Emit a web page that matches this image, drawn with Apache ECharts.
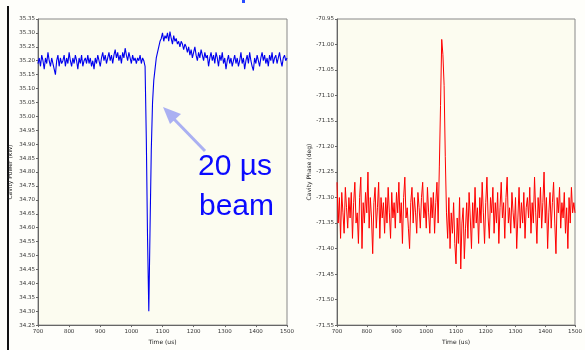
<!DOCTYPE html>
<html>
<head>
<meta charset="utf-8">
<script src="https://cdn.jsdelivr.net/npm/echarts@6/dist/echarts.min.js"></script>
<style>
  html, body { margin: 0; padding: 0; background: #fefefa; }
  #chart { width: 585px; height: 350px; }
</style>
</head>
<body>
<div id="chart"></div>
<script>
// tiempo en microsegundos (muestreo cada 4 us)
const timeUs = [
  700, 704, 708, 712, 716, 720, 724, 728, 732, 736, 740, 744, 748, 752, 756, 760, 764, 768, 772, 776,
  780, 784, 788, 792, 796, 800, 804, 808, 812, 816, 820, 824, 828, 832, 836, 840, 844, 848, 852, 856,
  860, 864, 868, 872, 876, 880, 884, 888, 892, 896, 900, 904, 908, 912, 916, 920, 924, 928, 932, 936,
  940, 944, 948, 952, 956, 960, 964, 968, 972, 976, 980, 984, 988, 992, 996, 1000, 1004, 1008, 1012, 1016,
  1020, 1024, 1028, 1032, 1036, 1040, 1044, 1048, 1052, 1056, 1060, 1064, 1068, 1072, 1076, 1080, 1084, 1088, 1092, 1096,
  1100, 1104, 1108, 1112, 1116, 1120, 1124, 1128, 1132, 1136, 1140, 1144, 1148, 1152, 1156, 1160, 1164, 1168, 1172, 1176,
  1180, 1184, 1188, 1192, 1196, 1200, 1204, 1208, 1212, 1216, 1220, 1224, 1228, 1232, 1236, 1240, 1244, 1248, 1252, 1256,
  1260, 1264, 1268, 1272, 1276, 1280, 1284, 1288, 1292, 1296, 1300, 1304, 1308, 1312, 1316, 1320, 1324, 1328, 1332, 1336,
  1340, 1344, 1348, 1352, 1356, 1360, 1364, 1368, 1372, 1376, 1380, 1384, 1388, 1392, 1396, 1400, 1404, 1408, 1412, 1416,
  1420, 1424, 1428, 1432, 1436, 1440, 1444, 1448, 1452, 1456, 1460, 1464, 1468, 1472, 1476, 1480, 1484, 1488, 1492, 1496,
  1500
];

// potencia de la cavidad (kW)
const powerKw = [
  35.19, 35.21, 35.18, 35.22, 35.20, 35.17, 35.21, 35.19, 35.23, 35.20, 35.18, 35.21, 35.19, 35.17, 35.15, 35.20, 35.22, 35.18, 35.21, 35.19,
  35.20, 35.22, 35.18, 35.21, 35.19, 35.23, 35.20, 35.18, 35.21, 35.19, 35.22, 35.20, 35.17, 35.21, 35.19, 35.22, 35.18, 35.20, 35.21, 35.19,
  35.22, 35.19, 35.21, 35.18, 35.20, 35.17, 35.21, 35.19, 35.22, 35.20, 35.18, 35.21, 35.23, 35.20, 35.22, 35.19, 35.21, 35.23, 35.20, 35.22,
  35.19, 35.22, 35.24, 35.21, 35.23, 35.20, 35.22, 35.19, 35.23, 35.21, 35.245, 35.22, 35.20, 35.23, 35.21, 35.19, 35.22, 35.20, 35.21, 35.19,
  35.21, 35.20, 35.22, 35.19, 35.21, 35.20, 35.18, 34.92, 34.56, 34.30, 34.60, 34.88, 35.05, 35.13, 35.17, 35.21, 35.23, 35.25, 35.27, 35.28,
  35.30, 35.27, 35.29, 35.28, 35.30, 35.27, 35.305, 35.28, 35.26, 35.29, 35.27, 35.28, 35.26, 35.27, 35.25, 35.27, 35.26, 35.24, 35.26, 35.25,
  35.23, 35.25, 35.22, 35.24, 35.21, 35.23, 35.25, 35.22, 35.20, 35.23, 35.21, 35.24, 35.22, 35.20, 35.23, 35.21, 35.22, 35.18, 35.21, 35.23,
  35.20, 35.22, 35.19, 35.23, 35.21, 35.18, 35.22, 35.20, 35.23, 35.19, 35.21, 35.17, 35.20, 35.22, 35.19, 35.21, 35.18, 35.20, 35.22, 35.19,
  35.21, 35.18, 35.20, 35.23, 35.19, 35.21, 35.17, 35.20, 35.22, 35.19, 35.23, 35.20, 35.18, 35.165, 35.21, 35.19, 35.22, 35.20, 35.18, 35.21,
  35.23, 35.20, 35.22, 35.19, 35.21, 35.18, 35.22, 35.20, 35.23, 35.19, 35.21, 35.22, 35.19, 35.21, 35.23, 35.20, 35.18, 35.21, 35.22, 35.20,
  35.21
];

// fase de la cavidad (grados)
const phaseDeg = [
  -71.27, -71.35, -71.30, -71.38, -71.29, -71.33, -71.37, -71.28, -71.32, -71.36, -71.30, -71.34, -71.29, -71.38, -71.31, -71.27, -71.35, -71.33, -71.39, -71.30,
  -71.26, -71.40, -71.31, -71.35, -71.29, -71.33, -71.25, -71.36, -71.30, -71.34, -71.41, -71.31, -71.28, -71.36, -71.32, -71.27, -71.38, -71.30, -71.34, -71.31,
  -71.37, -71.30, -71.35, -71.28, -71.33, -71.38, -71.29, -71.34, -71.31, -71.36, -71.29, -71.33, -71.27, -71.35, -71.31, -71.39, -71.30, -71.26, -71.34, -71.32,
  -71.36, -71.40, -71.31, -71.28, -71.35, -71.30, -71.33, -71.37, -71.29, -71.32, -71.36, -71.30, -71.27, -71.34, -71.31, -71.36, -71.28, -71.33, -71.37, -71.30,
  -71.34, -71.29, -71.37, -71.31, -71.27, -71.35, -71.24, -71.12, -70.99, -71.02, -71.08, -71.22, -71.33, -71.38, -71.30, -71.40, -71.33, -71.37, -71.31, -71.39,
  -71.43, -71.34, -71.39, -71.30, -71.44, -71.35, -71.32, -71.42, -71.36, -71.31, -71.38, -71.29, -71.34, -71.40, -71.31, -71.36, -71.28, -71.35, -71.32, -71.39,
  -71.30, -71.35, -71.27, -71.33, -71.39, -71.31, -71.26, -71.34, -71.38, -71.30, -71.33, -71.28, -71.37, -71.31, -71.35, -71.29, -71.39, -71.32, -71.27, -71.34,
  -71.31, -71.38, -71.30, -71.26, -71.35, -71.32, -71.37, -71.29, -71.33, -71.36, -71.30, -71.40, -71.34, -71.28, -71.36, -71.31, -71.35, -71.29, -71.38, -71.32,
  -71.30, -71.34, -71.28, -71.37, -71.31, -71.35, -71.26, -71.33, -71.39, -71.30, -71.34, -71.28, -71.36, -71.31, -71.25, -71.35, -71.30, -71.40, -71.33, -71.29,
  -71.36, -71.31, -71.27, -71.35, -71.41, -71.30, -71.33, -71.28, -71.36, -71.31, -71.34, -71.29, -71.37, -71.32, -71.40, -71.30, -71.35, -71.28, -71.33, -71.31,
  -71.33
];

const chart = echarts.init(document.getElementById('chart'));

const labelStyle = { fontSize: 5.5, color: '#333', fontFamily: 'DejaVu Sans' };
const nameStyle = { fontSize: 6, color: '#222', fontFamily: 'DejaVu Sans' };
const lineStyle = { color: '#666', width: 1 };

function xAxisFor(gridIndex) {
  return {
    type: 'value', gridIndex, min: 700, max: 1500, interval: 100,
    name: 'Time (us)', nameLocation: 'middle', nameGap: 10, nameTextStyle: nameStyle,
    axisLine: { lineStyle }, axisTick: { length: 2, lineStyle },
    axisLabel: Object.assign({ margin: 3, formatter: v => String(v) }, labelStyle),
    splitLine: { show: false }
  };
}

function yAxisFor(gridIndex, min, max, name) {
  return {
    type: 'value', gridIndex, min, max, interval: 0.05,
    name, nameLocation: 'middle', nameGap: 25, nameTextStyle: nameStyle,
    axisLine: { lineStyle }, axisTick: { length: 2, lineStyle },
    axisLabel: Object.assign({ margin: 3, formatter: v => v.toFixed(2) }, labelStyle),
    splitLine: { show: false }
  };
}

chart.setOption({
  backgroundColor: '#fefefa',
  animation: false,
  grid: [
    { left: 38, top: 19, width: 249, height: 314, show: true, backgroundColor: '#fcfcf0', borderColor: '#888', borderWidth: 1 },
    { left: 337, top: 19, width: 250, height: 314, show: true, backgroundColor: '#fcfcf0', borderColor: '#888', borderWidth: 1 }
  ],
  xAxis: [xAxisFor(0), xAxisFor(1)],
  yAxis: [
    yAxisFor(0, 34.25, 35.35, 'Cavity Power (kW)'),
    yAxisFor(1, -71.55, -70.95, 'Cavity Phase (deg)')
  ],
  series: [
    {
      type: 'line', xAxisIndex: 0, yAxisIndex: 0, showSymbol: false,
      data: timeUs.map((t, i) => [t, powerKw[i]]),
      lineStyle: { color: '#0000ee', width: 1.1 }
    },
    {
      type: 'line', xAxisIndex: 1, yAxisIndex: 1, showSymbol: false,
      data: timeUs.map((t, i) => [t, phaseDeg[i]]),
      lineStyle: { color: '#ff0000', width: 1 }
    }
  ],
  graphic: [
    { type: 'rect', shape: { x: 7, y: 6, width: 2, height: 344 }, style: { fill: '#111' } },
    { type: 'rect', shape: { x: 242, y: 0, width: 3, height: 3 }, style: { fill: '#2a4dff' } },
    // flecha de la anotación
    { type: 'line', shape: { x1: 205, y1: 151, x2: 172, y2: 117 }, style: { stroke: '#aab0f2', lineWidth: 3 } },
    { type: 'polygon', shape: { points: [[163, 107], [181, 114], [170, 124]] }, style: { fill: '#aab0f2' } },
    { type: 'text', x: 198, y: 152, style: { text: '20 µs', font: '30px "Liberation Sans"', fill: '#0a0aff' } },
    { type: 'text', x: 199, y: 192, style: { text: 'beam', font: '30px "Liberation Sans"', fill: '#0a0aff' } }
  ]
});
</script>
</body>
</html>
